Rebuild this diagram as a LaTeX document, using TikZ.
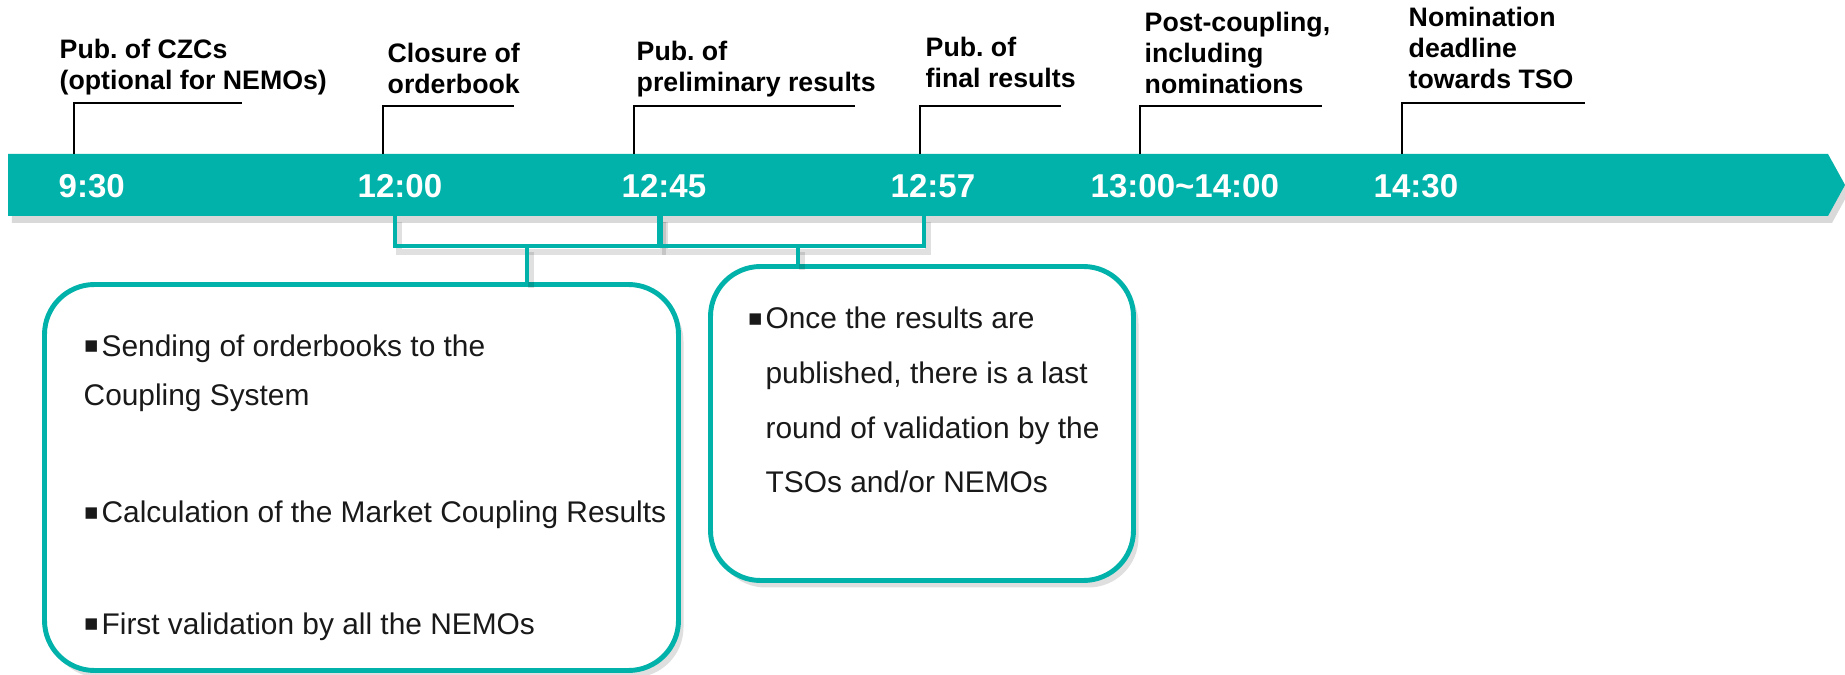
\documentclass[tikz,border=0pt]{standalone}
\usepackage{fontspec}
\setmainfont{Liberation Sans}
\newfontfamily\symfont{DejaVu Sans}
\usetikzlibrary{shadows,calc}
\definecolor{lagoon}{RGB}{0,178,169}
\definecolor{ink}{RGB}{25,25,25}
\newcommand\sqbullet{\makebox[5.1pt][l]{\raisebox{1pt}{\symfont\fontsize{6.5}{6}\selectfont ▪}}}
\tikzset{
  bar/.style={fill=lagoon,drop shadow={opacity=0.3,shadow xshift=0.4mm,shadow yshift=-0.7mm}},
  time/.style={text=white,font=\fontsize{9.4}{11}\selectfont\bfseries,anchor=west,inner sep=0pt},
  tag/.style={font=\fontsize{7.6}{8.8}\selectfont\bfseries,align=left,anchor=south west,
    inner sep=0pt,text depth=0pt},
  callout/.style={draw=black,line width=0.5pt},
  brace/.style={draw=lagoon,line width=1.4pt},
  brace shadow/.style={draw=black,opacity=0.12,line width=1.6pt,transform canvas={xshift=0.4mm,yshift=-0.6mm}},
  panel/.style={draw=lagoon,line width=1.4pt,fill=white,rounded corners=5mm,
    drop shadow={opacity=0.25,shadow xshift=0.5mm,shadow yshift=-0.7mm}},
  point/.style={font=\fontsize{8.5}{14.2}\selectfont,text=ink,align=left,anchor=base west,inner sep=0pt},
}
\begin{document}
\frenchspacing
\begin{tikzpicture}[x=0.1mm,y=-0.1mm]
  \useasboundingbox (0,0) rectangle (1845,675);
  % timeline
  \fill[bar] (8,154) -- (1828,154) -- (1845,185) -- (1828,216) -- (8,216) -- cycle;
  \foreach \n/\tx/\ty/\ex/\lx/\ly/\lab/\hx/\hr in {
    1/74/103/242/59/90/{Pub. of CZCs\\(optional for NEMOs)}/58/9:30,
    2/383/106/514/387/94/{Closure of\\orderbook}/357/12:00,
    3/634/106/855/636/92/{Pub. of\\preliminary results}/621/12:45,
    4/920/106/1061/925/88.5/{Pub. of\\final results}/890/12:57,
    5/1140/106/1322/1144/94/{Post-coupling,\\including\\nominations}/1090/13:00\textasciitilde14:00,
    6/1402/103/1585/1408/89.5/{Nomination\\deadline\\towards TSO}/1373/14:30}{
    \coordinate (tick\n) at (\tx,154);
    \coordinate (arm\n) at (\ex,\ty);
    \draw[callout] (tick\n) |- (arm\n);
    \node[tag] (lab\n) at (\lx,\ly) {\lab};
    \node[time] (time\n) at (\hx,186) {\hr};
  }
  % boxes
  \node[panel,minimum width=6.34cm,minimum height=3.86cm] (lbox) at (361.5,477.5) {};
  \node[panel,minimum width=4.23cm,minimum height=3.14cm] (rbox) at (922,423.5) {};
  % brackets
  \coordinate (b1) at (395,216);
  \coordinate (b2) at (659,216);
  \coordinate (b3) at (661,216);
  \coordinate (b4) at (924,216);
  \coordinate (j1) at (527,246);
  \coordinate (j2) at (798,246);
  \foreach \s in {brace shadow,brace}{
    \draw[\s] (b1) -- ++(0,30) -| (b2);
    \draw[\s] (b3) -- ++(0,30) -| (b4);
    \draw[\s] (j1) -- (j1 |- lbox.north);
    \draw[\s] (j2) -- (j2 |- rbox.north);
  }
  % box texts
  \node[point] (s1) at (83,406) {\sqbullet Sending of orderbooks to the\\Coupling System};
  \node[point] (s2) at (83,523) {\sqbullet Calculation of the Market Coupling Results};
  \node[point] (s3) at (83,634) {\sqbullet First validation by all the NEMOs};
  \node[point,font=\fontsize{8.5}{15.6}\selectfont] (r1) at (747,493) {\sqbullet Once the results are\\
    \phantom{\sqbullet}published, there is a last\\
    \phantom{\sqbullet}round of validation by the\\\phantom{\sqbullet}TSOs and/or NEMOs};
\end{tikzpicture}
\end{document}
